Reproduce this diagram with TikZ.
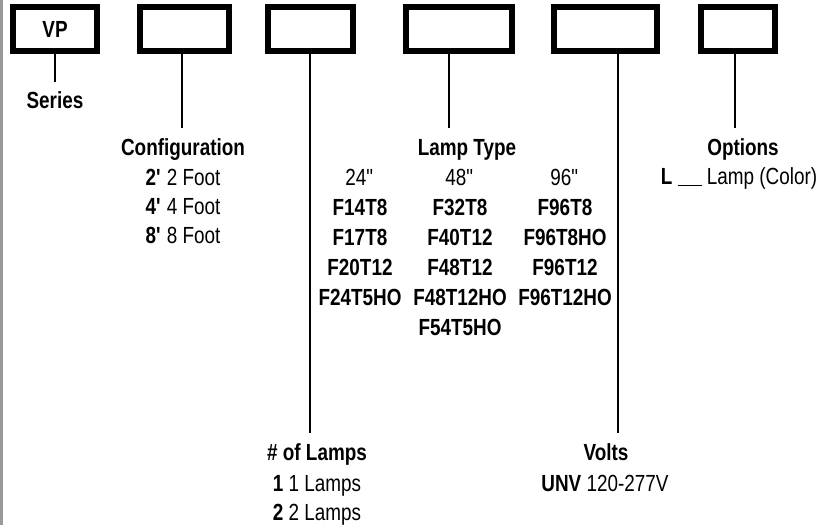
\documentclass[tikz,border=0pt]{standalone}
\usepackage{fontspec}
\setmainfont[FakeStretch=0.81]{Liberation Sans}
\usetikzlibrary{positioning}

\begin{document}
\begin{tikzpicture}[x=0.75pt,y=-0.75pt,
  codebox/.style={draw,line width=4.5pt,minimum height=33pt,inner sep=0pt,
    font=\fontsize{17.5}{21}\selectfont},
  lead/.style={line width=2.2pt},
  txt/.style={anchor=base,inner sep=0pt,font=\fontsize{17.5}{21}\selectfont}]
\useasboundingbox (0,0) rectangle (819,525);
\fill[black!40] (0,0) rectangle (3,525);

% code boxes
\node[codebox,minimum width=63pt] (bseries) at (55,29) {\textbf{VP}};
\node[codebox,minimum width=66.75pt] (bconfig) at (184.5,29) {};
\node[codebox,minimum width=63.75pt] (blamps) at (310.5,29) {};
\node[codebox,minimum width=79.5pt] (btype) at (459,29) {};
\node[codebox,minimum width=77.25pt] (bvolts) at (605.5,29) {};
\node[codebox,minimum width=55.5pt] (boptions) at (738,29) {};

% leads
\coordinate (eseries) at (55,82);
\coordinate (econfig) at (182,128);
\coordinate (elamps) at (310,433);
\coordinate (etype) at (449,128);
\coordinate (evolts) at (618,433);
\coordinate (eoptions) at (735,128);
\draw[lead] (eseries |- bseries.south) -- (eseries);
\draw[lead] (econfig |- bconfig.south) -- (econfig);
\draw[lead] (elamps |- blamps.south) -- (elamps);
\draw[lead] (etype |- btype.south) -- (etype);
\draw[lead] (evolts |- bvolts.south) -- (evolts);
\draw[lead] (eoptions |- boptions.south) -- (eoptions);

% series
\node[txt] (series) at (55,108) {\textbf{Series}};

% configuration
\node[txt] (config) at (183,155) {\textbf{Configuration}};
\node[txt] (cfg2) at (183,185) {\textbf{2\textquotesingle} 2 Foot};
\node[txt] (cfg4) at (183,214) {\textbf{4\textquotesingle} 4 Foot};
\node[txt] (cfg8) at (183,243) {\textbf{8\textquotesingle} 8 Foot};

% lamp type
\node[txt] (ltype) at (467,155) {\textbf{Lamp Type}};
\node[txt] (l24) at (360,185) {24\textquotedbl};
\node[txt] (f14t8) at (360,215) {\textbf{F14T8}};
\node[txt] (f17t8) at (360,245) {\textbf{F17T8}};
\node[txt] (f20t12) at (360,275) {\textbf{F20T12}};
\node[txt] (f24t5ho) at (360,305) {\textbf{F24T5HO}};
\node[txt] (l48) at (460,185) {48\textquotedbl};
\node[txt] (f32t8) at (460,215) {\textbf{F32T8}};
\node[txt] (f40t12) at (460,245) {\textbf{F40T12}};
\node[txt] (f48t12) at (460,275) {\textbf{F48T12}};
\node[txt] (f48t12ho) at (460,305) {\textbf{F48T12HO}};
\node[txt] (f54t5ho) at (460,335) {\textbf{F54T5HO}};
\node[txt] (l96) at (565,185) {96\textquotedbl};
\node[txt] (f96t8) at (565,215) {\textbf{F96T8}};
\node[txt] (f96t8ho) at (565,245) {\textbf{F96T8HO}};
\node[txt] (f96t12) at (565,275) {\textbf{F96T12}};
\node[txt] (f96t12ho) at (565,305) {\textbf{F96T12HO}};

% options
\node[txt] (options) at (743,155) {\textbf{Options}};
\node[txt] (optl) at (739,184) {\textbf{L} \rule[-1.5pt]{18pt}{0.9pt} Lamp (Color)};

% number of lamps
\node[txt] (nlamps) at (317,460) {\textbf{\# of Lamps}};
\node[txt] (nl1) at (317,491) {\textbf{1} 1 Lamps};
\node[txt] (nl2) at (317,520) {\textbf{2} 2 Lamps};

% volts
\node[txt] (volts) at (606,460) {\textbf{Volts}};
\node[txt] (unv) at (605,491) {\textbf{UNV} 120-277V};
\end{tikzpicture}
\end{document}
